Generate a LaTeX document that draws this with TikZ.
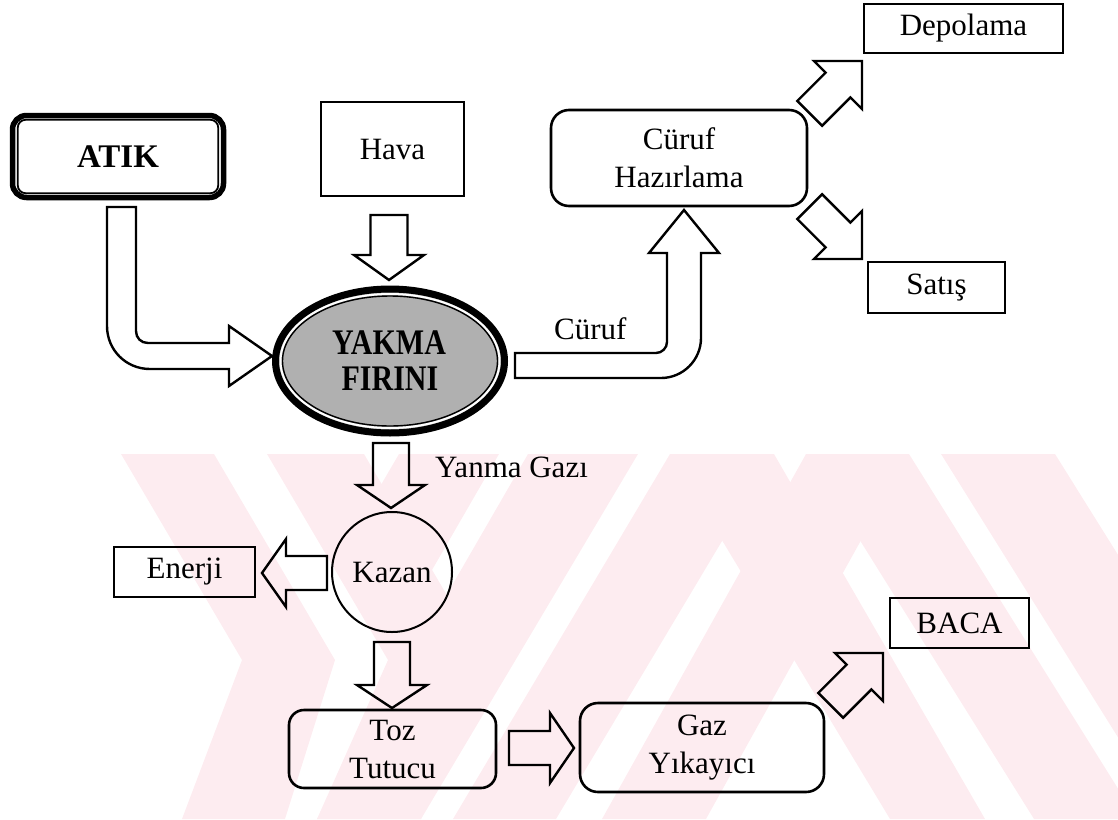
\documentclass[tikz,border=0pt]{standalone}
\usepackage{fontspec}
\setmainfont{Liberation Serif}
\usetikzlibrary{shapes.geometric}
\definecolor{wm}{RGB}{253,236,240}
\definecolor{stip}{RGB}{176,176,176}
\begin{document}
\begin{tikzpicture}[x=1pt,y=-1pt,
  txt/.style={font=\fontsize{31}{38}\selectfont, align=center, inner sep=0pt},
  box/.style={draw, line width=2.6pt, txt},
  rbox/.style={box, rounded corners=18pt},
  blk/.style={draw, line width=2.4pt, line join=miter},
  yakfont/.style={font=\fontsize{30}{30}\selectfont\bfseries, inner sep=0pt},
]
\useasboundingbox (0,0) rectangle (1118,819);
% watermark
\begin{scope}
\clip (0,454) rectangle (1118,819);
\fill[wm] (121,454) -- (214,454) -- (335,660) -- (285,819) -- (182,819) -- (242,660) -- cycle;
\fill[wm] (267,454) -- (364,454) -- (485,660) -- (421,819) -- (317,819) -- (388,660) -- cycle;
\fill[wm] (399,454) -- (499,454) -- (432,570) -- (333,567) -- cycle;
\fill[wm] (528,454) -- (638,454) -- (421,819) -- (317,819) -- cycle;
\fill[wm] (670,454) -- (774,454) -- (556,819) -- (453,819) -- cycle;
\fill[wm] (806,454) -- (909,454) -- (706,819) -- (602,819) -- cycle;
\fill[wm] (670,454) -- (774,454) -- (985,819) -- (890,819) -- cycle;
\fill[wm] (806,454) -- (909,454) -- (1137,819) -- (1034,819) -- cycle;
\fill[wm] (941,454) -- (1055,454) -- (1283,819) -- (1169,819) -- cycle;
\end{scope}

% boxes
\node[box, minimum width=199pt, minimum height=49pt] (dep) at (963.5,28.5) {Depolama};
\node[box, minimum width=137pt, minimum height=51pt] (sat) at (936.5,287.5) {Satış};
\node[box, minimum width=139pt, minimum height=50pt] (baca) at (959.5,623) {BACA};
\node[box, minimum width=141pt, minimum height=50pt] (ener) at (184.5,572) {Enerji};
\node[box, minimum width=143pt, minimum height=94pt] (hava) at (392.5,149) {Hava};
\node[rbox, minimum width=256pt, minimum height=96pt] (cur) at (679,158) {Cüruf\\Hazırlama};
\node[rbox, rounded corners=15pt, minimum width=207pt, minimum height=78pt] (toz) at (392.5,749) {Toz\\Tutucu};
\node[rbox, minimum width=244pt, minimum height=89pt] (gaz) at (702,747.5) {Gaz\\Yıkayıcı};
\node[draw, circle, line width=2pt, minimum size=120pt, txt] (kazan) at (392,572) {Kazan};

% ATIK
\node[draw, line width=5.5pt, rounded corners=14pt, minimum width=211pt, minimum height=82pt, inner sep=0pt] (atik) at (118,156.5) {};
\draw[line width=1.8pt, rounded corners=8pt] ([shift={(8,7)}]atik.north west) rectangle ([shift={(-8,-7)}]atik.south east);
\node[font=\fontsize{33}{33}\selectfont\bfseries, inner sep=0pt] (atiktxt) at (atik.center) {ATIK};

% furnace
\node[ellipse, draw, line width=7pt, fill=stip, minimum width=229pt, minimum height=144pt, inner sep=0pt] (yak) at (390,361) {};
\draw[white, line width=2pt] (yak.center) ellipse [x radius=109.5pt, y radius=67pt];
\draw[line width=1.4pt] (yak.center) ellipse [x radius=107.5pt, y radius=65pt];
\node[yakfont] (yaka) at (389,342.5) {\scalebox{1}[1.2]{YAKMA}};
\node[yakfont] (yakb) at (390,378.5) {\scalebox{1}[1.2]{FIRINI}};

% straight block arrows
\draw[blk] (370.5,215) -- (370.5,255) -- (354,255) -- (389,280) -- (424,255) -- (407.5,255) -- (407.5,215) -- cycle;
\draw[blk] (373,443) -- (373,485) -- (357,485) -- (391,508) -- (425,485) -- (409,485) -- (409,443) -- cycle;
\draw[blk] (374,642) -- (374,685) -- (357,685) -- (392,708) -- (427,685) -- (410,685) -- (410,642) -- cycle;
\draw[blk] (509,731) -- (550,731) -- (550,713) -- (574,748) -- (550,783) -- (550,765) -- (509,765) -- cycle;
\draw[blk] (327,556) -- (286,556) -- (286,539) -- (262,573) -- (286,607) -- (286,590) -- (327,590) -- cycle;

% diagonal block arrows
\draw[blk] (797.3,100.9) -- (825.6,72.6) -- (814,61) -- (862,61) -- (862,109) -- (850.4,97.4) -- (822.1,125.7) -- cycle;
\draw[blk] (822.1,194.3) -- (850.4,222.6) -- (862,211) -- (862,259) -- (814,259) -- (825.6,247.4) -- (797.3,219.1) -- cycle;
\draw[blk] (818.3,692.9) -- (846.6,664.6) -- (835,653) -- (883,653) -- (883,701) -- (871.4,689.4) -- (843.1,717.7) -- cycle;

% bent arrows
\draw[blk] (107,207) -- (136,207) -- (136,331) .. controls (136,338) and (141,343) .. (148,343) -- (229,343) -- (229,326) -- (272,356) -- (229,386) -- (229,369) -- (150,369) .. controls (126,369) and (107,350) .. (107,326) -- cycle;
\draw[blk] (515,353) -- (656,353) .. controls (662,353) and (667,348) .. (667,342) -- (667,253) -- (649,253) -- (684,210) -- (719,253) -- (701,253) -- (701,338) .. controls (701,360) and (683,378) .. (661,378) -- (515,378) -- cycle;

% labels
\node[txt, anchor=base west] (lcur) at (554,339) {Cüruf};
\node[txt, anchor=base west] (lyan) at (435,477) {Yanma Gazı};
\end{tikzpicture}
\end{document}
